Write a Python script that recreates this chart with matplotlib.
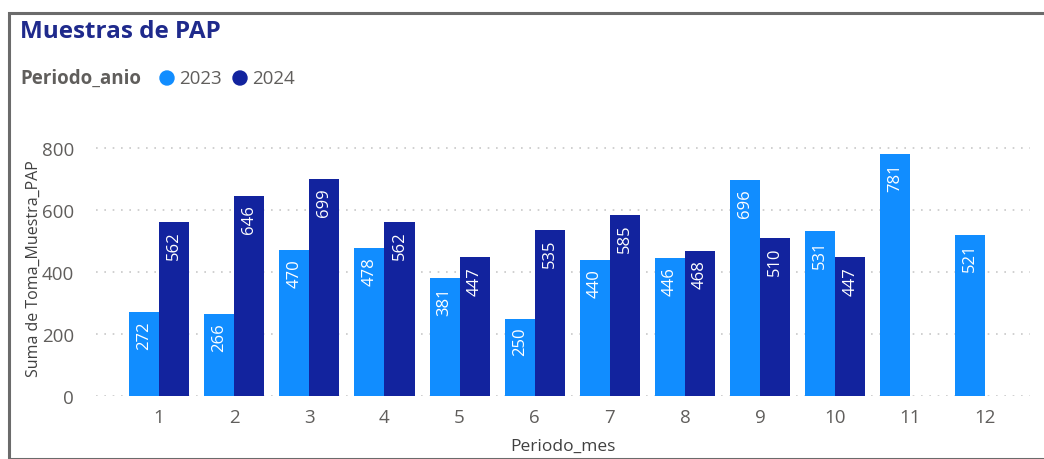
import matplotlib.pyplot as plt
import matplotlib.patches as patches
import numpy as np

# data
meses = [1, 2, 3, 4, 5, 6, 7, 8, 9, 10, 11, 12]
valores_2023 = [272, 266, 470, 478, 381, 250, 440, 446, 696, 531, 781, 521]
valores_2024 = [562, 646, 699, 562, 447, 535, 585, 468, 510, 447, None, None]
yticks = [0, 200, 400, 600, 800]

c2023 = '#118DFF'
c2024 = '#12239E'
gris = '#605E5C'

plt.rcParams['font.family'] = ['Open Sans', 'DejaVu Sans']

fig = plt.figure(figsize=(10.44, 4.6), dpi=100)
ax = fig.add_axes([0.092, 0.137, 0.895, 0.559])

# frame around the visual
fig.patches.append(patches.Rectangle((9 / 1044, 0.0), 1.0, 1 - 14 / 460,
                                     transform=fig.transFigure, fill=False,
                                     edgecolor='#6b6b6b', lw=2.2))

x = np.array(meses)
w = 0.4
for xs, vals, col in [(x - w / 2, valores_2023, c2023), (x + w / 2, valores_2024, c2024)]:
    for xi, v in zip(xs, vals):
        if v is None:
            continue
        ax.bar(xi, v, width=w, color=col, edgecolor='none', zorder=3)
        ax.annotate(str(v), (xi, v), xytext=(0, -6), textcoords='offset points',
                    rotation=90, ha='center', va='top', color='white',
                    fontsize=12, zorder=4)

ax.set_xlim(0.16, 12.6)
ax.set_ylim(0, 830)
ax.set_xticks(meses)
ax.set_xticklabels([str(m) for m in meses])
ax.set_yticks(yticks)
ax.tick_params(axis='both', length=0, colors=gris, labelsize=13.5)
ax.tick_params(axis='y', pad=16)
ax.tick_params(axis='x', pad=9)
ax.grid(axis='y', color='#c8c8c8', linestyle=(0, (1, 4)), lw=1.2, zorder=0)
for s in ax.spines.values():
    s.set_visible(False)

ax.set_xlabel('Periodo_mes', color='#404040', fontsize=12.5, labelpad=8)
ax.set_ylabel('Suma de Toma_Muestra_PAP', color='#404040', fontsize=11.5, labelpad=0)

fig.text(20 / 1044, 1 - 32 / 460, 'Muestras de PAP', fontsize=17.5, fontweight='bold',
         color='#1f2a8c', va='center', ha='left')
fig.text(20 / 1044, 1 - 79 / 460, 'Periodo_anio', fontsize=13.5, fontweight='bold',
         color=gris, va='center', ha='left')
for cx, col, lab in [(167, c2023, '2023'), (240, c2024, '2024')]:
    fig.patches.append(patches.Ellipse((cx / 1044, 1 - 79 / 460), 14 / 1044, 14 / 460,
                                       transform=fig.transFigure, color=col))
    fig.text((cx + 12) / 1044, 1 - 79 / 460, lab, fontsize=13.5, color=gris,
             va='center', ha='left')

fig.savefig('out.png', dpi=100)
